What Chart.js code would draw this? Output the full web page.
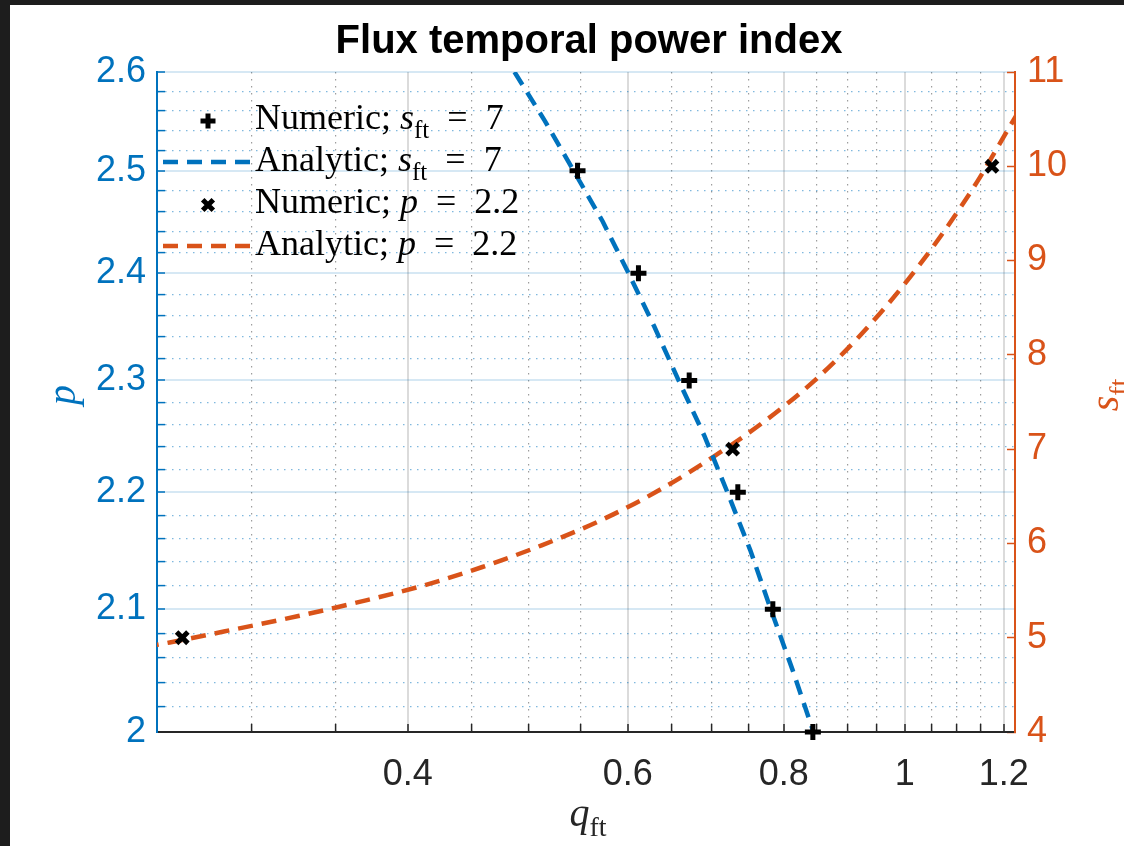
<!DOCTYPE html>
<html>
<head>
<meta charset="utf-8">
<script src="https://cdn.jsdelivr.net/npm/chart.js@4.4.0/dist/chart.umd.min.js"></script>
<style>
html,body{margin:0;padding:0;background:#1d1d1d;}
</style>
</head>
<body>
<canvas id="myChart" width="1124" height="846"></canvas>
<script>
// numeric runs for s_ft = 7 (p against q_ft)
const numS7_q = [0.547, 0.612, 0.672, 0.735, 0.784, 0.844];
const numS7_p = [2.5, 2.4, 2.3, 2.2, 2.1, 2.0];
// analytic curve for s_ft = 7
const anaS7_q = [0.487, 0.515, 0.543, 0.573, 0.601, 0.630, 0.659, 0.691, 0.721, 0.752, 0.781, 0.813, 0.845];
const anaS7_p = [2.6, 2.55, 2.5, 2.45, 2.4, 2.35, 2.3, 2.25, 2.2, 2.15, 2.1, 2.05, 2.0];
// numeric runs for p = 2.2 (s_ft against q_ft)
const numP22_q = [0.264, 0.728, 1.174];
const numP22_s = [5, 7, 10];
// analytic curve for p = 2.2
const anaP22_q = [0.246, 0.258, 0.291, 0.327, 0.366, 0.411, 0.459, 0.512, 0.572, 0.633, 0.701, 0.773, 0.847, 0.920, 0.995, 1.067, 1.143, 1.213, 1.232];
const anaP22_s = [4.90, 4.95, 5.09, 5.23, 5.38, 5.55, 5.75, 5.98, 6.25, 6.55, 6.91, 7.30, 7.73, 8.20, 8.72, 9.25, 9.84, 10.42, 10.57];

// tick labels
const xTicks = [0.4, 0.6, 0.8, 1, 1.2];
const xMinor = [0.3, 0.35, 0.45, 0.5, 0.55, 0.65, 0.7, 0.75, 0.85, 0.9, 0.95, 1.05, 1.1, 1.15];
const pTicks = [2, 2.1, 2.2, 2.3, 2.4, 2.5, 2.6];
const pMinor = [2.02, 2.04, 2.06, 2.08, 2.12, 2.14, 2.16, 2.18, 2.22, 2.24, 2.26, 2.28,
                2.32, 2.34, 2.36, 2.38, 2.42, 2.44, 2.46, 2.48, 2.52, 2.54, 2.56, 2.58];
const sTicks = [4, 5, 6, 7, 8, 9, 10, 11];

const BLUE = '#0072BD', ORANGE = '#D95319', DARK = '#262626';
const TICKFONT = {family: '"Liberation Sans", Arial, sans-serif', size: 36};

function pts(xs, ys) { return xs.map((x, i) => ({x: x, y: ys[i]})); }
function withMinor(major, minor) {
  return major.concat(minor).sort((a, b) => a - b).map(v => ({value: v, major: major.includes(v)}));
}
const isMajor = c => c.tick && c.tick.major;

// mixed text: italic letters and subscripts
function rich(c, parts, x, y, size, color, align) {
  const fonts = parts.map(p => (p.it ? 'italic ' : '') + (p.sub ? size * 0.7 : size) + 'px "Liberation Serif", serif');
  let w = 0;
  parts.forEach((p, i) => { c.font = fonts[i]; w += c.measureText(p.t).width; });
  let cx = align === 'center' ? x - w / 2 : x;
  c.fillStyle = color;
  c.textAlign = 'left';
  c.textBaseline = 'alphabetic';
  parts.forEach((p, i) => {
    c.font = fonts[i];
    c.fillText(p.t, cx, y + (p.sub ? size * 0.24 : 0));
    cx += c.measureText(p.t).width;
  });
}

function marker(c, x, y, r, rot) {
  c.save();
  c.translate(x, y);
  if (rot) c.rotate(Math.PI / 4);
  c.strokeStyle = '#000';
  c.lineWidth = 5;
  c.beginPath();
  c.moveTo(-r, 0); c.lineTo(r, 0);
  c.moveTo(0, -r); c.lineTo(0, r);
  c.stroke();
  c.restore();
}

function dashSample(c, y, color) {
  c.save();
  c.strokeStyle = color;
  c.lineWidth = 4.5;
  c.setLineDash([15, 9]);
  c.beginPath();
  c.moveTo(163, y); c.lineTo(250, y);
  c.stroke();
  c.restore();
}

const texts = {
  id: 'texts',
  beforeDraw(chart) {
    const c = chart.ctx;
    c.save();
    c.fillStyle = '#1d1d1d';
    c.fillRect(0, 0, chart.width, chart.height);
    c.fillStyle = '#ffffff';
    c.fillRect(10, 5, chart.width - 10, chart.height - 5);
    c.restore();
  },
  afterDraw(chart) {
    const c = chart.ctx;
    const a = chart.chartArea;
    c.save();
    // title
    c.font = 'bold 40px "Liberation Sans", Arial, sans-serif';
    c.fillStyle = '#000';
    c.textAlign = 'center';
    c.textBaseline = 'alphabetic';
    c.fillText('Flux temporal power index', (a.left + a.right) / 2 + 3, 53);

    // axis titles
    rich(c, [{t: 'q', it: true}, {t: 'ft', sub: true}], 588, 826, 40, DARK, 'center');
    c.save();
    c.translate(75, 395);
    c.rotate(-Math.PI / 2);
    rich(c, [{t: 'p', it: true}], 0, 0, 40, BLUE, 'center');
    c.restore();
    c.save();
    c.translate(1118, 395);
    c.rotate(-Math.PI / 2);
    rich(c, [{t: 's', it: true}, {t: 'ft', sub: true}], 0, 0, 40, ORANGE, 'center');
    c.restore();

    // legend
    const rows = [129, 171, 213, 255];
    marker(c, 208, rows[0] - 8, 7.5, false);
    dashSample(c, rows[1] - 9, BLUE);
    marker(c, 208, rows[2] - 8, 7.5, true);
    dashSample(c, rows[3] - 9, ORANGE);
    const sft = [{t: 's', it: true}, {t: 'ft', sub: true}, {t: '\u2002=\u20027'}];
    rich(c, [{t: 'Numeric; '}].concat(sft), 255, rows[0], 36, '#000', 'left');
    rich(c, [{t: 'Analytic; '}].concat(sft), 255, rows[1], 36, '#000', 'left');
    rich(c, [{t: 'Numeric; '}, {t: 'p', it: true}, {t: '\u2002=\u20022.2'}], 255, rows[2], 36, '#000', 'left');
    rich(c, [{t: 'Analytic; '}, {t: 'p', it: true}, {t: '\u2002=\u20022.2'}], 255, rows[3], 36, '#000', 'left');
    c.restore();
  }
};

const ctx = document.getElementById('myChart');
new Chart(ctx, {
  type: 'scatter',
  data: {
    datasets: [
      {
        label: 'Numeric; s_ft = 7',
        data: pts(numS7_q, numS7_p),
        yAxisID: 'yP',
        pointStyle: 'cross', pointRadius: 8, pointBorderWidth: 5,
        borderColor: '#000', backgroundColor: '#000',
        clip: false, order: 0
      },
      {
        label: 'Analytic; s_ft = 7',
        data: pts(anaS7_q, anaS7_p),
        yAxisID: 'yP',
        showLine: true, pointRadius: 0,
        borderColor: BLUE, borderWidth: 4.5, borderDash: [15, 9],
        order: 2
      },
      {
        label: 'Numeric; p = 2.2',
        data: pts(numP22_q, numP22_s),
        yAxisID: 'yS',
        pointStyle: 'crossRot', pointRadius: 8, pointBorderWidth: 5,
        borderColor: '#000', backgroundColor: '#000',
        clip: false, order: 1
      },
      {
        label: 'Analytic; p = 2.2',
        data: pts(anaP22_q, anaP22_s),
        yAxisID: 'yS',
        showLine: true, pointRadius: 0,
        borderColor: ORANGE, borderWidth: 4.5, borderDash: [15, 9],
        cubicInterpolationMode: 'monotone',
        order: 3
      }
    ]
  },
  options: {
    responsive: false,
    animation: false,
    devicePixelRatio: 1,
    layout: {padding: {top: 72, left: 0, right: 0, bottom: 0}},
    plugins: {
      legend: {display: false},
      title: {display: false},
      tooltip: {enabled: false}
    },
    scales: {
      x: {
        type: 'logarithmic',
        position: 'bottom',
        min: 0.252, max: 1.225,
        afterBuildTicks: s => { s.ticks = withMinor(xTicks, xMinor); },
        afterFit: s => { s.height = 114; },
        ticks: {
          autoSkip: false, maxRotation: 0, minRotation: 0,
          color: DARK, font: TICKFONT, padding: 29,
          callback: (v, i, t) => t[i].major ? String(v) : ''
        },
        grid: {
          color: c => isMajor(c) ? 'rgba(0,0,0,0.14)' : 'rgba(60,60,60,0.5)',
          lineWidth: c => isMajor(c) ? 2 : 1.2,
          tickLength: -8, tickColor: DARK, tickWidth: 1.5
        },
        border: {color: DARK, width: 2, dash: c => isMajor(c) ? [] : [1.5, 5.5]}
      },
      yP: {
        type: 'logarithmic',
        position: 'left',
        min: 2, max: 2.6,
        afterBuildTicks: s => { s.ticks = withMinor(pTicks, pMinor); },
        afterFit: s => { s.width = 157; },
        ticks: {
          autoSkip: false, color: BLUE, font: TICKFONT, padding: 19,
          callback: (v, i, t) => t[i].major ? String(v) : ''
        },
        grid: {
          color: c => isMajor(c) ? 'rgba(0,114,189,0.16)' : 'rgba(0,114,189,0.5)',
          lineWidth: c => isMajor(c) ? 2 : 1.2,
          tickLength: -8, tickColor: BLUE, tickWidth: 1.5
        },
        border: {color: BLUE, width: 2, dash: c => isMajor(c) ? [] : [1.5, 5.5]}
      },
      yS: {
        type: 'linear',
        position: 'right',
        min: 4, max: 11,
        afterBuildTicks: s => { s.ticks = sTicks.map(v => ({value: v})); },
        afterFit: s => { s.width = 109; },
        ticks: {color: ORANGE, font: TICKFONT, padding: 20},
        grid: {drawOnChartArea: false, tickLength: -8, tickColor: ORANGE, tickWidth: 1.5},
        border: {color: ORANGE, width: 2}
      }
    }
  },
  plugins: [texts]
});
</script>
</body>
</html>
